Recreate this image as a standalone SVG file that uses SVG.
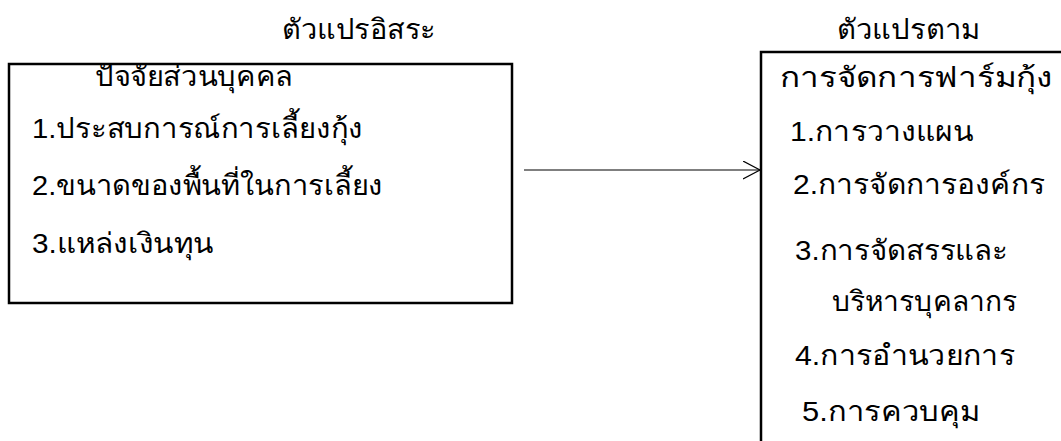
<svg xmlns="http://www.w3.org/2000/svg" width="1061" height="441" viewBox="0 0 1061 441">
<style>
.box{fill:none;stroke:#000;stroke-width:2.5}
.t{font-family:"Liberation Sans","Noto Sans",sans-serif;font-size:28px;fill:#000}
.c{stroke:#000;stroke-width:1.2;fill:none}
</style>
<defs>
<marker id="arr" markerWidth="20" markerHeight="20" refX="17" refY="9" orient="auto" markerUnits="userSpaceOnUse">
<path d="M0,0 L17,9 L0,18" fill="none" stroke="#000" stroke-width="1.2"/>
</marker>
</defs>
<rect width="1061" height="441" fill="#fff"/>
<text class="t" x="282" y="39" textLength="154" lengthAdjust="spacingAndGlyphs">ตัวแปรอิสระ</text>
<text class="t" x="837" y="39" textLength="143" lengthAdjust="spacingAndGlyphs">ตัวแปรตาม</text>
<g id="independent">
<rect class="box" x="9" y="64" width="503" height="239"/>
<text class="t" x="95" y="86" textLength="198" lengthAdjust="spacingAndGlyphs">ปัจจัยส่วนบุคคล</text>
<text class="t" x="32" y="138" textLength="331" lengthAdjust="spacingAndGlyphs">1.ประสบการณ์การเลี้ยงกุ้ง</text>
<text class="t" x="32" y="195" textLength="351" lengthAdjust="spacingAndGlyphs">2.ขนาดของพื้นที่ในการเลี้ยง</text>
<text class="t" x="32" y="253" textLength="181" lengthAdjust="spacingAndGlyphs">3.แหล่งเงินทุน</text>
</g>
<g id="dependent">
<rect class="box" x="761" y="52" width="330" height="420"/>
<text class="t" x="780" y="87" textLength="273" lengthAdjust="spacingAndGlyphs">การจัดการฟาร์มกุ้ง</text>
<text class="t" x="790" y="141" textLength="183" lengthAdjust="spacingAndGlyphs">1.การวางแผน</text>
<text class="t" x="793" y="194" textLength="252" lengthAdjust="spacingAndGlyphs">2.การจัดการองค์กร</text>
<text class="t" x="795" y="260" textLength="213" lengthAdjust="spacingAndGlyphs">3.การจัดสรรและ</text>
<text class="t" x="832" y="311" textLength="185" lengthAdjust="spacingAndGlyphs">บริหารบุคลากร</text>
<text class="t" x="795" y="365" textLength="220" lengthAdjust="spacingAndGlyphs">4.การอำนวยการ</text>
<text class="t" x="802" y="421" textLength="178" lengthAdjust="spacingAndGlyphs">5.การควบคุม</text>
</g>
<g id="connectors">
<line class="c" x1="524" y1="170" x2="760" y2="170" marker-end="url(#arr)"/>
</g>
</svg>
